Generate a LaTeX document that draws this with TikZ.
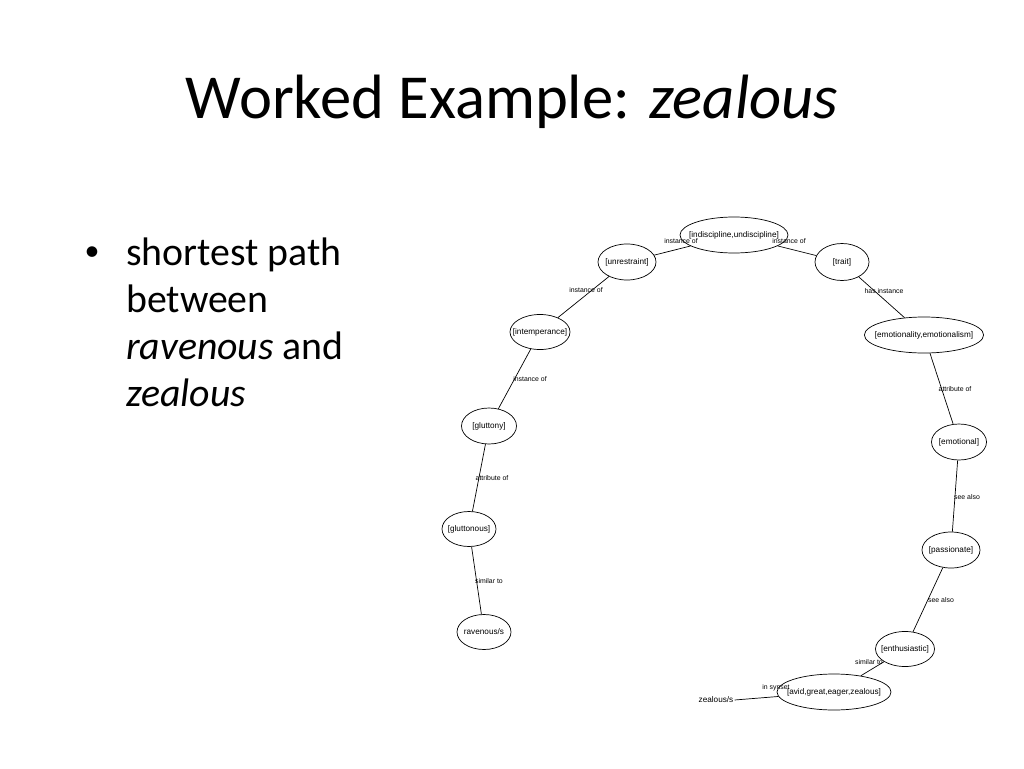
\documentclass[tikz,border=0pt]{standalone}
\usepackage{fontspec}
\setmainfont{Carlito}
\newfontfamily\diagfont{Liberation Sans}
\usetikzlibrary{shapes.geometric}
\begin{document}
\begin{tikzpicture}[x=1pt,y=-1pt,
  wn/.style={draw,ellipse,line width=0.7pt,inner xsep=-7pt,inner ysep=0pt,font=\diagfont\fontsize{8.2}{9}\selectfont},
  el/.style={font=\diagfont\fontsize{6.9}{7}\selectfont,inner sep=0pt},
  edge/.style={line width=0.7pt},
  body/.style={anchor=base west,font=\fontsize{39.8}{45}\selectfont,inner sep=0pt}]
\useasboundingbox[fill=white] (0,0) rectangle (1024,768);
\node[anchor=base,font=\fontsize{62.6}{70}\selectfont,inner sep=0pt] (title) at (512,118) {Worked Example: \textit{zealous}};
\node[anchor=center,font=\fontsize{30}{34}\selectfont,inner sep=0pt] (bul) at (92,254) {•};
\node[body] (t1) at (126,265) {shortest path};
\node[body] (t2) at (126,312) {between};
\node[body] (t3) at (126,359) {\textit{ravenous} and};
\node[body] (t4) at (126,406) {\textit{zealous}};

\node[wn,minimum width=108,minimum height=36] (ind) at (734,235) {[indiscipline,undiscipline]};
\node[wn,minimum width=58,minimum height=36] (unr) at (627,262) {[unrestraint]};
\node[wn,minimum width=54,minimum height=37] (trait) at (842,262) {[trait]};
\node[wn,minimum width=114,minimum height=36] (emo) at (924,335) {[emotionality,emotionalism]};
\node[wn,minimum width=55,minimum height=36] (emol) at (959,442) {[emotional]};
\node[wn,minimum width=58,minimum height=36] (pas) at (951,550) {[passionate]};
\node[wn,minimum width=59,minimum height=35] (ent) at (905,649) {[enthusiastic]};
\node[wn,minimum width=114,minimum height=36] (avid) at (834,692) {[avid,great,eager,zealous]};
\node[font=\diagfont\fontsize{8.2}{9}\selectfont,inner sep=1pt] (zea) at (716,700) {zealous/s};
\node[wn,minimum width=60,minimum height=35] (intem) at (540,332) {[intemperance]};
\node[wn,minimum width=55,minimum height=36] (glut) at (489,426) {[gluttony]};
\node[wn,minimum width=54,minimum height=35] (gluts) at (469,529) {[gluttonous]};
\node[wn,minimum width=54,minimum height=35] (rav) at (484,632) {ravenous/s};

\draw[edge] (unr) -- (ind);
\draw[edge] (ind) -- (trait);
\draw[edge] (trait) -- (emo);
\draw[edge] (emo) -- (emol);
\draw[edge] (emol) -- (pas);
\draw[edge] (pas) -- (ent);
\draw[edge] (ent) -- (avid);
\draw[edge] (zea.east) -- (avid);
\draw[edge] (unr) -- (intem);
\draw[edge] (intem) -- (glut);
\draw[edge] (glut) -- (gluts);
\draw[edge] (gluts) -- (rav);

\node[el] (l1) at (681,241) {instance of};
\node[el] (l2) at (789,241) {instance of};
\node[el] (l3) at (586,290) {instance of};
\node[el] (l4) at (884,291) {has instance};
\node[el] (l5) at (955,389) {attribute of};
\node[el] (l6) at (967,497) {see also};
\node[el] (l7) at (941,600) {see also};
\node[el] (l8) at (869,662) {similar to};
\node[el] (l9) at (776,688) {in synset};
\node[el] (l10) at (530,379) {instance of};
\node[el] (l11) at (492,478) {attribute of};
\node[el] (l12) at (489,581) {similar to};
\end{tikzpicture}
\end{document}
